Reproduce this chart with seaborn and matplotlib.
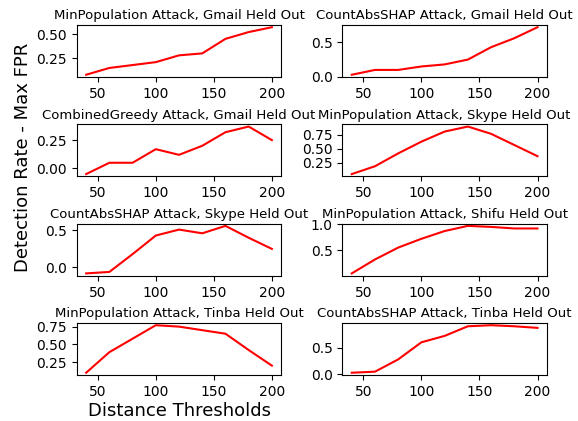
import matplotlib
matplotlib.use("Agg")
import matplotlib.pyplot as plt
import seaborn as sns
import pandas as pd

thresholds = [40, 60, 80, 100, 120, 140, 160, 180, 200]

titles = [
    "MinPopulation Attack, Gmail Held Out",
    "CountAbsSHAP Attack, Gmail Held Out",
    "CombinedGreedy Attack, Gmail Held Out",
    "MinPopulation Attack, Skype Held Out",
    "CountAbsSHAP Attack, Skype Held Out",
    "MinPopulation Attack, Shifu Held Out",
    "MinPopulation Attack, Tinba Held Out",
    "CountAbsSHAP Attack, Tinba Held Out",
]

minpop_gmail = [0.08, 0.15, 0.18, 0.21, 0.28, 0.30, 0.45, 0.52, 0.57]
countabs_gmail = [0.03, 0.10, 0.10, 0.15, 0.18, 0.25, 0.43, 0.56, 0.72]
combgreedy_gmail = [-0.05, 0.05, 0.05, 0.17, 0.12, 0.20, 0.32, 0.37, 0.25]
minpop_skype = [0.05, 0.19, 0.42, 0.63, 0.81, 0.90, 0.77, 0.57, 0.37]
countabs_skype = [-0.08, -0.06, 0.18, 0.43, 0.51, 0.46, 0.56, 0.40, 0.25]
minpop_shifu = [0.05, 0.32, 0.55, 0.72, 0.87, 0.97, 0.95, 0.92, 0.92]
minpop_tinba = [0.10, 0.39, 0.58, 0.77, 0.75, 0.70, 0.65, 0.42, 0.20]
countabs_tinba = [0.03, 0.05, 0.28, 0.60, 0.72, 0.90, 0.92, 0.90, 0.87]

series = [minpop_gmail, countabs_gmail, combgreedy_gmail, minpop_skype,
          countabs_skype, minpop_shifu, minpop_tinba, countabs_tinba]

yticks = [
    [0.25, 0.50],
    [0.0, 0.5],
    [0.00, 0.25],
    [0.25, 0.50, 0.75],
    [0.0, 0.5],
    [0.5, 1.0],
    [0.25, 0.50, 0.75],
    [0.0, 0.5],
]
yfmt = ["%.2f", "%.1f", "%.2f", "%.2f", "%.1f", "%.1f", "%.2f", "%.1f"]

fig, axes = plt.subplots(4, 2, figsize=(5.78, 4.21), dpi=100)
fig.subplots_adjust(left=0.133, right=0.946, top=0.941, bottom=0.109,
                    hspace=0.9, wspace=0.30)

for i, ax in enumerate(axes.flat):
    df = pd.DataFrame({"x": thresholds, "y": series[i]})
    sns.lineplot(data=df, x="x", y="y", ax=ax, color="red", linewidth=1.5)
    ax.set_title(titles[i], fontsize=9.5, pad=4)
    ax.set_xlabel("")
    ax.set_ylabel("")
    ax.set_xticks([50, 100, 150, 200])
    ax.set_yticks(yticks[i])
    ax.yaxis.set_major_formatter(matplotlib.ticker.FormatStrFormatter(yfmt[i]))
    ax.tick_params(labelsize=10)

axes[3, 0].set_xlabel("Distance Thresholds", fontsize=13, labelpad=2)
fig.text(0.040, 0.627, "Detection Rate - Max FPR", rotation=90,
         fontsize=13, ha="center", va="center")

fig.savefig("out.png", dpi=100)
